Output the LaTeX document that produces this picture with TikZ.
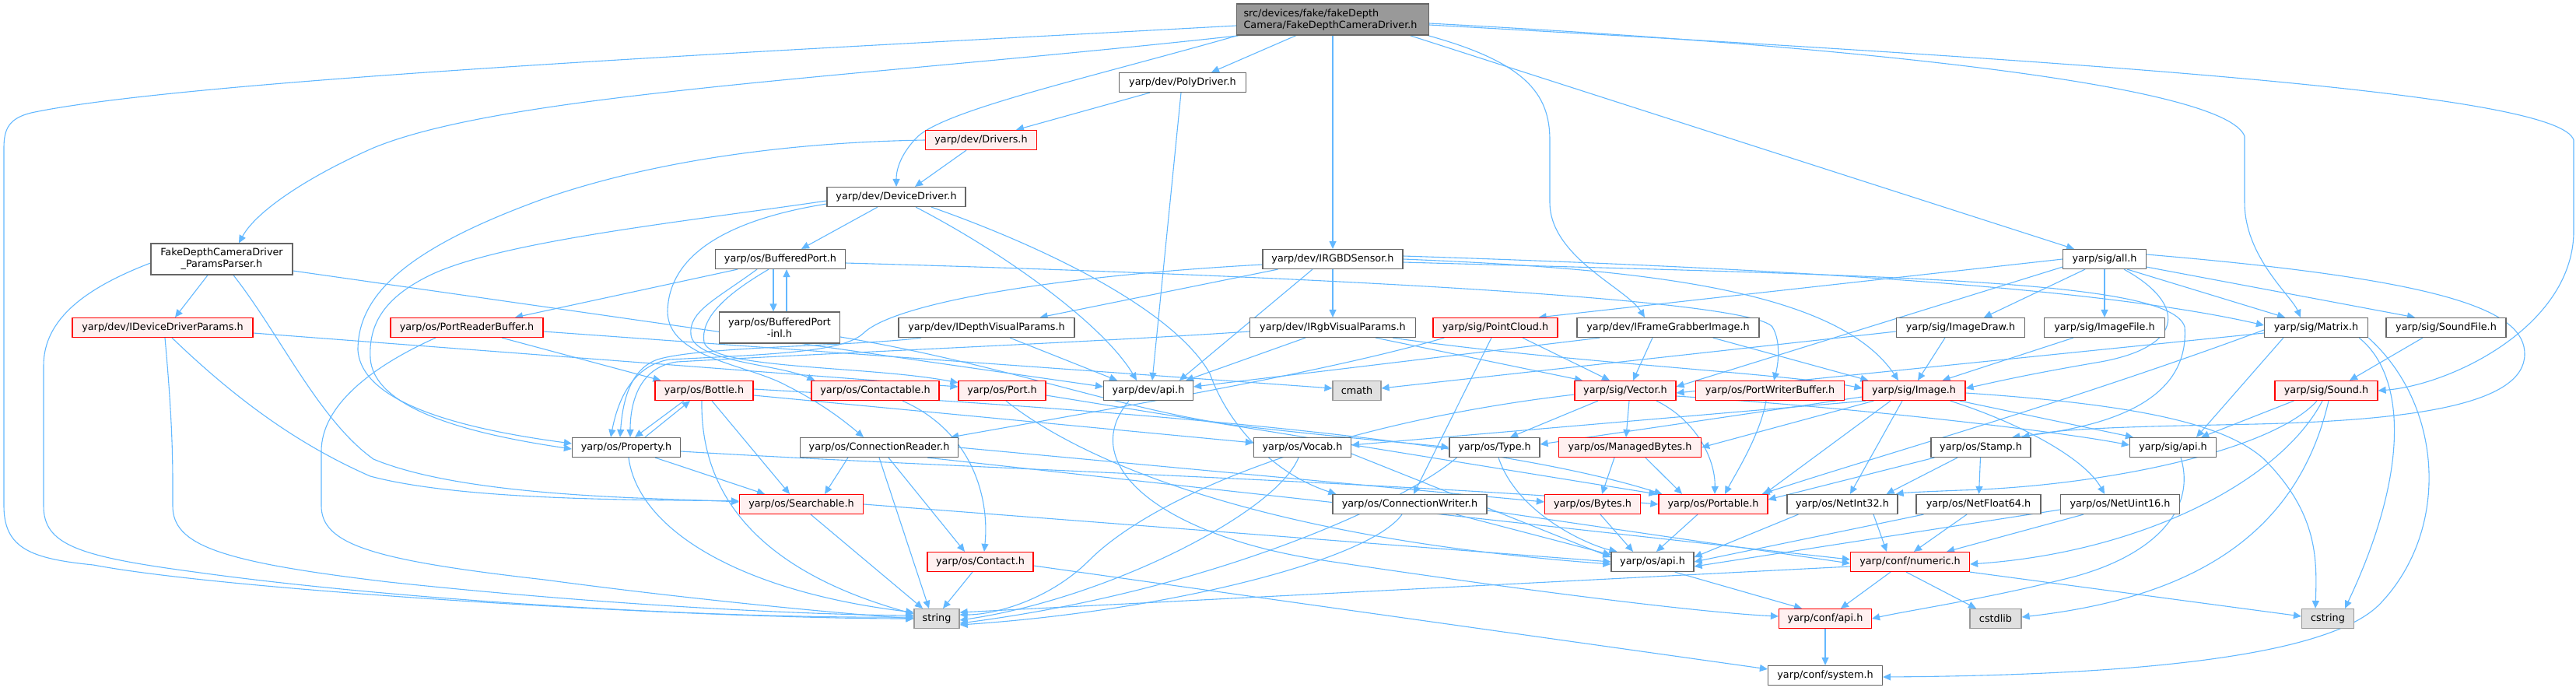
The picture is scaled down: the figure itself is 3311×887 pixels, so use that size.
\documentclass[tikz,border=0pt]{standalone}
\usepackage{fontspec}
\setmainfont{DejaVu Sans}
\usetikzlibrary{arrows.meta,calc}
\pgfdeclarelayer{bg}
\pgfsetlayers{bg,main}
\definecolor{edgec}{HTML}{63B8FF}
\definecolor{redfill}{HTML}{FFF0F0}
\definecolor{greyfill}{HTML}{E0E0E0}
\definecolor{mainfill}{HTML}{999999}
\definecolor{bord}{HTML}{666666}
\definecolor{gbord}{HTML}{999999}
\newcommand{\gfs}{\fontsize{12.8pt}{15pt}\selectfont}
\begin{document}
\begin{tikzpicture}[x=1pt,y=-1pt,
  box/.style={draw=bord, fill=white, line width=1.2pt, minimum height=25pt, inner sep=0pt, font=\gfs},
  rbox/.style={box, draw=red, fill=redfill},
  gbox/.style={box, draw=gbord, fill=greyfill},
  e/.style={draw=edgec, line width=1.1pt, -{Triangle[length=10pt,width=9pt]}}]
\useasboundingbox (0,0) rectangle (3311,887);
% ---------------- nodes
\node[box, fill=mainfill, minimum width=247pt, minimum height=40pt, align=left, text width=229pt] (main) at (1713,25) {src/devices/fake/fakeDepth\\Camera/FakeDepthCameraDriver.h};
\node[box, minimum width=182pt, minimum height=40pt, align=center] (pp) at (285,333) {FakeDepthCameraDriver\\\_ParamsParser.h};
\node[box, minimum width=163pt] (poly) at (1520,106) {yarp/dev/PolyDriver.h};
\node[rbox, minimum width=143pt] (drivers) at (1261,180) {yarp/dev/Drivers.h};
\node[box, minimum width=178pt] (dd) at (1152,253) {yarp/dev/DeviceDriver.h};
\node[box, minimum width=167pt] (bp) at (1003,333) {yarp/os/BufferedPort.h};
\node[box, minimum width=180pt] (rgbd) at (1713,333) {yarp/dev/IRGBDSensor.h};
\node[box, minimum width=107pt] (all) at (2705,333) {yarp/sig/all.h};
\node[rbox, minimum width=232pt] (iddp) at (209,421) {yarp/dev/IDeviceDriverParams.h};
\node[rbox, minimum width=196pt] (prb) at (600,421) {yarp/os/PortReaderBuffer.h};
\node[box, minimum width=155pt, minimum height=40pt, align=center] (bpinl) at (1002,421) {yarp/os/BufferedPort\\-inl.h};
\node[box, minimum width=226pt] (idvp) at (1268,421) {yarp/dev/IDepthVisualParams.h};
\node[box, minimum width=213pt] (irvp) at (1713,421) {yarp/dev/IRgbVisualParams.h};
\node[rbox, minimum width=160pt] (pc) at (1922,421) {yarp/sig/PointCloud.h};
\node[box, minimum width=234pt] (ifg) at (2144,421) {yarp/dev/IFrameGrabberImage.h};
\node[box, minimum width=165pt] (idraw) at (2520,421) {yarp/sig/ImageDraw.h};
\node[box, minimum width=155pt] (ifile) at (2705,421) {yarp/sig/ImageFile.h};
\node[box, minimum width=133pt] (matrix) at (2977,421) {yarp/sig/Matrix.h};
\node[box, minimum width=154pt] (sfile) at (3144,421) {yarp/sig/SoundFile.h};
\node[rbox, minimum width=126pt] (bottle) at (905,502) {yarp/os/Bottle.h};
\node[rbox, minimum width=164pt] (ctbl) at (1125,502) {yarp/os/Contactable.h};
\node[rbox, minimum width=112pt] (port) at (1288,502) {yarp/os/Port.h};
\node[box, minimum width=115pt] (devapi) at (1476,502) {yarp/dev/api.h};
\node[gbox, minimum width=62pt] (cmath) at (1744,502) {cmath};
\node[rbox, minimum width=130pt] (vector) at (2089,502) {yarp/sig/Vector.h};
\node[rbox, minimum width=191pt] (pwb) at (2275,502) {yarp/os/PortWriterBuffer.h};
\node[rbox, minimum width=132pt] (image) at (2460,502) {yarp/sig/Image.h};
\node[rbox, minimum width=132pt] (sound) at (2990,502) {yarp/sig/Sound.h};
\node[box, minimum width=139pt] (prop) at (805,575) {yarp/os/Property.h};
\node[box, minimum width=203pt] (cr) at (1130,575) {yarp/os/ConnectionReader.h};
\node[box, minimum width=125pt] (vocab) at (1674,575) {yarp/os/Vocab.h};
\node[box, minimum width=116pt] (type) at (1921,575) {yarp/os/Type.h};
\node[rbox, minimum width=183pt] (mb) at (2095,575) {yarp/os/ManagedBytes.h};
\node[box, minimum width=128pt] (stamp) at (2546,575) {yarp/os/Stamp.h};
\node[box, minimum width=111pt] (sigapi) at (2793,575) {yarp/sig/api.h};
\node[rbox, minimum width=159pt] (search) at (1030,648) {yarp/os/Searchable.h};
\node[box, minimum width=198pt] (cw) at (1812,648) {yarp/os/ConnectionWriter.h};
\node[rbox, minimum width=123pt] (bytes) at (2047,648) {yarp/os/Bytes.h};
\node[rbox, minimum width=140pt] (portable) at (2202,648) {yarp/os/Portable.h};
\node[box, minimum width=142pt] (ni32) at (2368,648) {yarp/os/NetInt32.h};
\node[box, minimum width=160pt] (nf64) at (2543,648) {yarp/os/NetFloat64.h};
\node[box, minimum width=153pt] (nu16) at (2725,648) {yarp/os/NetUint16.h};
\node[rbox, minimum width=136pt] (contact) at (1260,722) {yarp/os/Contact.h};
\node[box, minimum width=106pt] (osapi) at (2124,722) {yarp/os/api.h};
\node[rbox, minimum width=153pt] (numeric) at (2455,722) {yarp/conf/numeric.h};
\node[gbox, minimum width=58pt] (string) at (1204,795) {string};
\node[rbox, minimum width=119pt] (confapi) at (2346,795) {yarp/conf/api.h};
\node[gbox, minimum width=66pt] (cstdlib) at (2565,795) {cstdlib};
\node[gbox, minimum width=67pt] (cstring) at (2992,795) {cstring};
\node[box, minimum width=147pt] (system) at (2346,868) {yarp/conf/system.h};
% ---------------- edges
\begin{pgfonlayer}{bg}
% main
\draw[e] ($(main.west)+(0,8)$) .. controls (1100,60) and (250,100) .. (40,145) .. controls (12,152) and (5,165) .. (5,190) -- (5,650) .. controls (5,705) and (40,718) .. (120,726) .. controls (300,760) and (900,795) .. (string.west);
\draw[e] ($(main.south west)+(5,0)$) .. controls (1100,100) and (650,120) .. (480,190) .. controls (400,225) and (330,270) .. ($(pp.north)+(22,0)$);
\draw[e] ($(main.south west)+(2,0)$) .. controls (1400,100) and (1220,140) .. (1180,175) .. controls (1160,195) and (1152,215) .. (dd.north);
\draw[e] ($(main.south)+(-47,0)$) -- ($(poly.north)+(37,0)$);
\draw[e] (main) -- (rgbd);
\draw[e] ($(main.south east)+(-2,0)$) .. controls (1960,80) and (1992,120) .. (1992,180) -- (1992,260) .. controls (1992,330) and (2090,370) .. ($(ifg.north)+(-30,0)$);
\draw[e] ($(main.south east)+(-25,0)$) -- ($(all.north)+(-39,0)$);
\draw[e] ($(main.east)+(0,5)$) .. controls (2400,60) and (2860,110) .. (2885,175) -- (2885,260) .. controls (2885,330) and (2945,380) .. ($(matrix.north)+(-20,0)$);
\draw[e] ($(main.east)+(0,7)$) .. controls (2700,80) and (3290,120) .. (3308,180) -- (3308,300) .. controls (3305,420) and (3150,495) .. (sound.east);
% params parser
\draw[e] ($(pp.south)+(-18,0)$) -- ($(iddp.north)+(16,0)$);
\draw[e] ($(pp.west)+(0,5)$) .. controls (110,370) and (56,410) .. (56,470) -- (56,650) .. controls (56,700) and (100,715) .. (250,735) .. controls (500,770) and (900,795) .. ($(string.west)+(0,-2)$);
\draw[e] ($(pp.south)+(15,0)$) .. controls (360,430) and (410,540) .. (480,590) .. controls (600,640) and (850,640) .. ($(search.west)+(0,-3)$);
\draw[e] ($(pp.east)+(0,15)$) -- ($(devapi.west)+(0,-5)$);
% IDeviceDriverParams
\draw[e] ($(iddp.south)+(3,0)$) .. controls (218,500) and (222,560) .. (222,620) -- (222,650) .. controls (222,700) and (280,722) .. (500,748) .. controls (800,780) and (1050,790) .. ($(string.west)+(0,-4)$);
\draw[e] ($(iddp.south)+(12,0)$) .. controls (300,510) and (380,570) .. (476,612) .. controls (600,645) and (850,642) .. ($(search.west)+(0,-4)$);
\draw[e] ($(iddp.east)+(0,7)$) -- ($(port.west)+(0,-5)$);
% PortReaderBuffer
\draw[e] ($(prb.south)+(-40,0)$) .. controls (480,470) and (413,520) .. (413,580) -- (413,650) .. controls (413,700) and (480,720) .. (700,745) .. controls (900,772) and (1100,790) .. (string.west);
\draw[e] ($(prb.south)+(45,0)$) -- ($(bottle.north west)+(8,0)$);
\draw[e] ($(prb.east)+(0,5)$) -- ($(cmath.west)+(0,-3)$);
% PolyDriver, Drivers
\draw[e] ($(poly.south)+(-42,0)$) -- ($(drivers.north)+(45,0)$);
\draw[e] ($(poly.south)+(-2,0)$) -- ($(devapi.north)+(5,0)$);
\draw[e] ($(drivers.south)+(-19,0)$) -- ($(dd.north)+(24,0)$);
\draw[e] (drivers.west) .. controls (1000,183) and (830,210) .. (700,255) .. controls (520,320) and (460,380) .. (460,450) .. controls (465,520) and (600,552) .. ($(prop.west)+(0,-5)$);
% DeviceDriver
\draw[e] ($(dd.west)+(0,5)$) .. controls (880,285) and (640,310) .. (550,355) .. controls (490,385) and (474,420) .. (476,460) .. controls (480,530) and (620,560) .. ($(prop.west)+(0,2)$);
\draw[e] ($(dd.west)+(0,9)$) .. controls (950,280) and (860,320) .. (858,400) .. controls (858,460) and (960,468) .. (1010,495) .. controls (1060,520) and (1090,545) .. ($(cr.north)+(-20,0)$);
\draw[e] ($(dd.south)+(-24,0)$) -- ($(bp.north)+(27,0)$);
\draw[e] ($(dd.south)+(25,0)$) .. controls (1300,330) and (1420,420) .. ($(devapi.north)+(-15,0)$);
\draw[e] ($(dd.south)+(45,0)$) .. controls (1350,320) and (1510,400) .. (1555,480) .. controls (1580,550) and (1640,610) .. ($(cw.north west)+(5,0)$);
% BufferedPort
\draw[e] ($(bp.south)+(-55,0)$) -- ($(prb.north)+(62,0)$);
\draw[e] ($(bp.south)+(-30,0)$) .. controls (920,385) and (885,400) .. (888,430) .. controls (892,465) and (1000,468) .. ($(ctbl.north west)+(5,0)$);
\draw[e] ($(bp.south)+(-15,0)$) .. controls (930,380) and (900,410) .. (905,440) .. controls (915,475) and (1120,470) .. ($(port.north west)+(0,3)$);
\draw[e] ($(bp.south)+(-9,0)$) -- ($(bpinl.north)+(-8,0)$);
\draw[e] ($(bpinl.north)+(9,0)$) -- ($(bp.south)+(8,0)$);
\draw[e] ($(bp.east)+(0,5)$) .. controls (1700,355) and (2250,385) .. (2278,420) .. controls (2290,440) and (2285,470) .. ($(pwb.north)+(5,0)$);
\draw[e] ($(bpinl.east)+(0,12)$) .. controls (1300,470) and (1450,530) .. (1600,548) .. controls (1750,565) and (1820,570) .. (type.west);
% IDepthVisualParams
\draw[e] ($(idvp.south)+(30,0)$) -- ($(devapi.north)+(-40,0)$);
\draw[e] ($(idvp.south west)+(30,0)$) .. controls (1100,445) and (900,445) .. (845,462) .. controls (808,475) and (800,520) .. ($(prop.north)+(-8,0)$);
% IRGBDSensor
\draw[e] ($(rgbd.south west)+(20,0)$) -- ($(idvp.north east)+(-45,0)$);
\draw[e] (rgbd) -- (irvp);
\draw[e] ($(rgbd.south)+(-26,0)$) -- ($(devapi.north)+(40,0)$);
\draw[e] ($(rgbd.west)+(0,7)$) .. controls (1350,355) and (1150,390) .. (1110,428) .. controls (1085,452) and (1000,455) .. (860,462) .. controls (815,470) and (795,510) .. ($(prop.north)+(-20,0)$);
\draw[e] ($(rgbd.east)+(0,-4)$) .. controls (2300,345) and (2700,370) .. ($(matrix.west)+(0,-3)$);
\draw[e] (rgbd.east) .. controls (2100,345) and (2360,370) .. ($(image.north)+(-20,0)$);
\draw[e] ($(rgbd.east)+(0,4)$) .. controls (2450,355) and (2790,360) .. (2808,420) .. controls (2815,520) and (2700,550) .. ($(stamp.north)+(40,0)$);
% IRgbVisualParams
\draw[e] ($(irvp.south)+(-35,0)$) -- ($(devapi.north east)+(-10,0)$);
\draw[e] ($(irvp.south)+(55,0)$) -- ($(vector.north)+(-55,0)$);
\draw[e] ($(irvp.west)+(0,5)$) .. controls (1400,440) and (1100,452) .. (870,465) .. controls (820,472) and (810,520) .. ($(prop.north)+(5,0)$);
\draw[e] ($(irvp.south east)+(-30,0)$) .. controls (2000,465) and (2300,480) .. ($(image.west)+(0,-3)$);
% PointCloud
\draw[e] ($(pc.south)+(-5,0)$) -- ($(cw.north)+(5,0)$);
\draw[e] ($(pc.south)+(35,0)$) -- ($(vector.north)+(-20,0)$);
\draw[e] ($(pc.south west)+(15,0)$) .. controls (1700,480) and (1400,530) .. ($(cr.north east)+(-10,0)$);
% IFrameGrabberImage
\draw[e] ($(ifg.south west)+(30,0)$) -- ($(devapi.east)+(0,-5)$);
\draw[e] ($(ifg.south)+(-20,0)$) -- ($(vector.north)+(10,0)$);
\draw[e] ($(ifg.south east)+(-60,0)$) -- ($(image.north west)+(8,0)$);
% all.h
\draw[e] (all.west) -- ($(pc.north east)+(-25,0)$);
\draw[e] ($(all.south west)+(0,-3)$) -- ($(vector.east)+(0,-5)$);
\draw[e] ($(all.south)+(-25,0)$) -- ($(idraw.north)+(30,0)$);
\draw[e] (all) -- (ifile);
\draw[e] ($(all.south)+(25,0)$) .. controls (2810,390) and (2810,445) .. (2700,465) .. controls (2600,482) and (2560,492) .. ($(image.east)+(0,-3)$);
\draw[e] ($(all.south east)+(-25,0)$) -- ($(matrix.north)+(-40,0)$);
\draw[e] ($(all.south east)+(0,-3)$) -- ($(sfile.north)+(-40,0)$);
\draw[e] ($(all.east)+(0,-6)$) .. controls (3150,360) and (3245,400) .. (3245,455) .. controls (3245,520) and (3100,540) .. (2900,545) .. controls (2750,548) and (2650,550) .. ($(stamp.north east)+(-12,0)$);
% ImageDraw, ImageFile, SoundFile
\draw[e] ($(idraw.south)+(-20,0)$) -- ($(image.north)+(5,0)$);
\draw[e] ($(idraw.west)+(0,5)$) -- ($(cmath.east)+(0,-3)$);
\draw[e] ($(ifile.south)+(-40,0)$) -- ($(image.north east)+(-30,0)$);
\draw[e] ($(sfile.south)+(-30,0)$) -- ($(sound.north)+(30,0)$);
% Matrix
\draw[e] ($(matrix.west)+(0,7)$) -- ($(vector.east)+(0,3)$);
\draw[e] ($(matrix.south west)+(25,0)$) -- ($(sigapi.north)+(30,0)$);
\draw[e] ($(matrix.south east)+(-12,0)$) .. controls (3090,480) and (3100,600) .. ($(cstring.north)+(22,0)$);
\draw[e] (matrix.south east) .. controls (3140,520) and (3150,680) .. (3060,775) .. controls (2990,850) and (2700,868) .. ($(system.east)+(0,2)$);
\draw[e] ($(matrix.west)+(0,3)$) .. controls (2650,520) and (2400,590) .. ($(portable.north east)+(-8,0)$);
% Bottle
\draw[e] ($(bottle.south)+(-26,0)$) -- ($(prop.north)+(11,0)$);
\draw[e] ($(prop.north)+(24,0)$) -- ($(bottle.south)+(-18,0)$);
\draw[e] ($(bottle.south)+(-3,0)$) .. controls (900,640) and (980,735) .. ($(string.west)+(0,-6)$);
\draw[e] ($(bottle.south)+(10,0)$) -- ($(search.north)+(-15,0)$);
\draw[e] ($(bottle.east)+(0,6)$) -- ($(vocab.west)+(0,-6)$);
\draw[e] ($(bottle.east)+(0,-2)$) .. controls (1400,525) and (1900,560) .. ($(portable.north west)+(5,0)$);
% Contactable, Port, dev/api
\draw[e] ($(ctbl.south)+(35,0)$) .. controls (1250,555) and (1272,640) .. ($(contact.north)+(5,0)$);
\draw[e] ($(port.south)+(5,0)$) .. controls (1380,585) and (1600,690) .. ($(osapi.west)+(0,3)$);
\draw[e] ($(port.east)+(0,6)$) -- ($(portable.north west)+(-2,0)$);
\draw[e] ($(devapi.south)+(-25,0)$) .. controls (1380,600) and (1500,690) .. (1700,720) .. controls (2000,765) and (2200,788) .. ($(confapi.west)+(0,-3)$);
% Vector
\draw[e] ($(vector.south)+(-35,0)$) -- ($(type.north)+(20,0)$);
\draw[e] ($(vector.south)+(5,0)$) -- ($(mb.north)+(-5,0)$);
\draw[e] ($(vector.south)+(40,0)$) .. controls (2180,540) and (2205,590) .. ($(portable.north)+(2,0)$);
\draw[e] ($(vector.west)+(0,5)$) .. controls (1700,545) and (1480,640) .. (1400,720) .. controls (1350,770) and (1280,790) .. ($(string.east)+(0,-5)$);
\draw[e] ($(vector.east)+(0,7)$) .. controls (2400,525) and (2650,555) .. ($(sigapi.west)+(0,-3)$);
% PortWriterBuffer
\draw[e] ($(pwb.south)+(-5,0)$) .. controls (2262,560) and (2230,610) .. ($(portable.north)+(15,0)$);
% Image
\draw[e] ($(image.west)+(0,8)$) -- ($(type.east)+(0,-4)$);
\draw[e] ($(image.south west)+(5,0)$) -- ($(vocab.east)+(0,-3)$);
\draw[e] ($(image.south west)+(15,0)$) -- (mb.east);
\draw[e] ($(image.south)+(-30,0)$) -- ($(portable.north east)+(-5,0)$);
\draw[e] ($(image.south)+(-15,0)$) -- ($(ni32.north)+(10,0)$);
\draw[e] ($(image.south east)+(-20,0)$) .. controls (2600,545) and (2680,590) .. ($(nu16.north)+(-20,0)$);
\draw[e] ($(image.south east)+(-8,0)$) -- ($(sigapi.north west)+(5,0)$);
\draw[e] ($(image.east)+(0,3)$) .. controls (2750,520) and (2860,545) .. (2910,590) .. controls (2980,660) and (2978,720) .. ($(cstring.north)+(-16,0)$);
% Sound
\draw[e] ($(sound.south west)+(25,0)$) -- ($(sigapi.north east)+(-20,0)$);
\draw[e] ($(sound.south)+(-5,0)$) .. controls (2930,620) and (2750,710) .. ($(numeric.east)+(0,3)$);
\draw[e] ($(sound.south)+(3,0)$) .. controls (2950,700) and (2800,770) .. ($(cstdlib.east)+(0,-2)$);
\draw[e] ($(sound.south)+(-12,0)$) .. controls (2920,580) and (2700,625) .. (2520,630) .. controls (2470,632) and (2450,633) .. ($(ni32.north east)+(-3,0)$);
% sig/api
\draw[e] ($(sigapi.south)+(10,0)$) .. controls (2825,660) and (2760,720) .. (2650,745) .. controls (2550,770) and (2450,785) .. (confapi.east);
% Property
\draw[e] ($(prop.south)+(3,0)$) .. controls (820,680) and (950,760) .. ($(string.west)+(0,-8)$);
\draw[e] ($(prop.south)+(37,0)$) -- ($(search.north)+(-47,0)$);
\draw[e] ($(prop.east)+(0,5)$) .. controls (1200,600) and (1800,620) .. (portable.west);
% ConnectionReader
\draw[e] ($(cr.south)+(-40,0)$) -- ($(search.north)+(30,0)$);
\draw[e] (cr.south) -- ($(string.north)+(-10,0)$);
\draw[e] ($(cr.south)+(12,0)$) -- ($(contact.north)+(-20,0)$);
\draw[e] ($(cr.south east)+(-40,0)$) -- ($(numeric.west)+(0,-3)$);
\draw[e] (cr.east) -- ($(bytes.west)+(0,-3)$);
% Vocab, Type, ManagedBytes
\draw[e] ($(vocab.south)+(-5,0)$) .. controls (1640,660) and (1420,770) .. ($(string.east)+(0,2)$);
\draw[e] ($(vocab.east)+(0,8)$) -- ($(osapi.west)+(0,-6)$);
\draw[e] ($(type.south west)+(10,0)$) .. controls (1800,650) and (1550,760) .. ($(string.east)+(0,6)$);
\draw[e] ($(type.south)+(5,0)$) .. controls (1950,660) and (2040,700) .. ($(osapi.north west)+(8,0)$);
\draw[e] ($(mb.south)+(-20,0)$) -- ($(bytes.north)+(12,0)$);
\draw[e] ($(mb.south)+(20,0)$) -- ($(portable.north)+(-40,0)$);
% Stamp
\draw[e] ($(stamp.south)+(-30,0)$) -- ($(ni32.north east)+(-15,0)$);
\draw[e] (stamp) -- (nf64);
\draw[e] ($(stamp.south west)+(5,0)$) -- ($(portable.east)+(0,-6)$);
% Searchable, ConnectionWriter
\draw[e] ($(search.south)+(12,0)$) -- ($(string.north)+(-18,0)$);
\draw[e] (search.east) -- (osapi.west);
\draw[e] ($(cw.south)+(-10,0)$) .. controls (1760,720) and (1500,785) .. ($(string.east)+(0,8)$);
\draw[e] ($(cw.south east)+(-40,0)$) -- ($(osapi.west)+(0,-9)$);
\draw[e] ($(cw.east)+(0,8)$) -- ($(numeric.west)+(0,2)$);
% Bytes, Portable, Net*
\draw[e] ($(bytes.south)+(10,0)$) -- ($(osapi.north)+(-25,0)$);
\draw[e] ($(portable.south)+(-20,0)$) -- ($(osapi.north)+(5,0)$);
\draw[e] ($(ni32.south west)+(15,0)$) -- ($(osapi.east)+(0,-6)$);
\draw[e] ($(ni32.south)+(40,0)$) -- ($(numeric.north)+(-30,0)$);
\draw[e] ($(nf64.south west)+(10,0)$) -- (osapi.east);
\draw[e] ($(nf64.south)+(-15,0)$) -- ($(numeric.north)+(5,0)$);
\draw[e] ($(nu16.west)+(0,7)$) -- ($(osapi.east)+(0,6)$);
\draw[e] ($(nu16.south west)+(30,0)$) -- ($(numeric.north east)+(-30,0)$);
% Contact, os/api, numeric, conf/api
\draw[e] ($(contact.south)+(-10,0)$) -- ($(string.north)+(8,0)$);
\draw[e] ($(contact.east)+(0,5)$) -- ($(system.north west)+(0,5)$);
\draw[e] ($(osapi.south east)+(-25,0)$) -- ($(confapi.north)+(-30,0)$);
\draw[e] ($(numeric.south)+(-25,0)$) -- ($(confapi.north)+(20,0)$);
\draw[e] ($(numeric.south)+(-5,0)$) -- ($(cstdlib.north)+(-25,0)$);
\draw[e] (numeric.south east) -- ($(cstring.west)+(0,-3)$);
\draw[e] ($(numeric.west)+(0,6)$) -- ($(string.east)+(0,-8)$);
\draw[e] (confapi) -- (system);
\end{pgfonlayer}
\end{tikzpicture}
\end{document}
